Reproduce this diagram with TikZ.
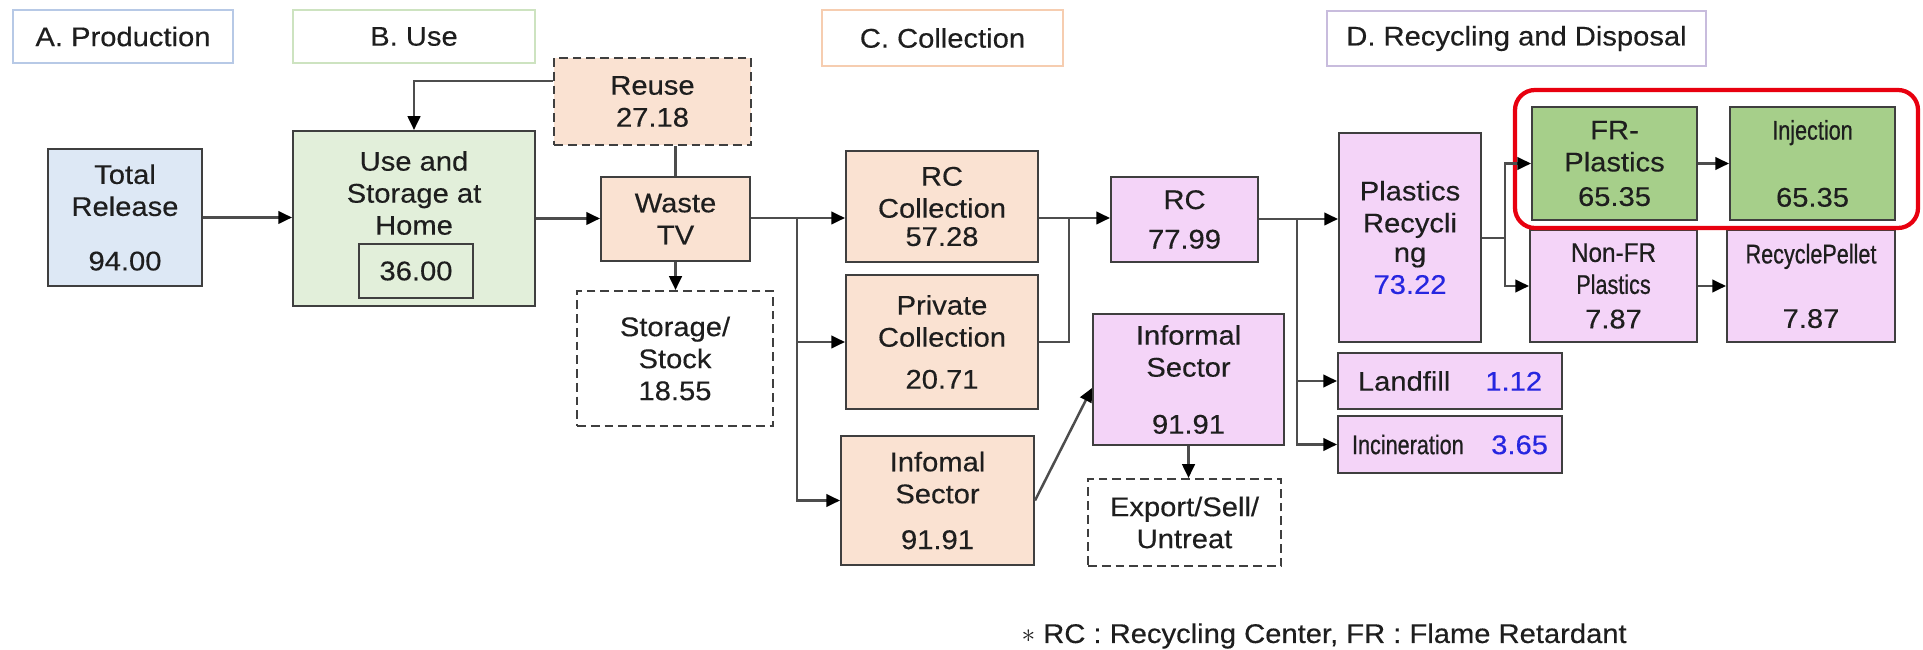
\documentclass[tikz,border=0pt]{standalone}
\usepackage{fontspec}
\setmainfont[FakeStretch=1.08,FakeBold=0.35]{Liberation Sans}
\newfontfamily\condfont[FakeStretch=0.8,FakeBold=0.6]{Liberation Sans}
\newfontfamily\semicond[FakeStretch=0.9,FakeBold=0.5]{Liberation Sans}
\usetikzlibrary{arrows.meta,calc}
\definecolor{edge}{HTML}{3F3F3F}
\definecolor{conn}{HTML}{4D4D4D}
\definecolor{bluef}{HTML}{DDE8F5}
\definecolor{greenf}{HTML}{E2EFDA}
\definecolor{peach}{HTML}{FAE2D2}
\definecolor{pinkf}{HTML}{F4D4F8}
\definecolor{frgreen}{HTML}{A6CF8A}
\definecolor{numblue}{HTML}{2626E0}
\definecolor{hlred}{HTML}{E8000F}
\definecolor{txt}{HTML}{1E1E1E}
\definecolor{hdrA}{HTML}{B7C9E6}
\definecolor{hdrB}{HTML}{CDE3C0}
\definecolor{hdrC}{HTML}{F6CDB0}
\definecolor{hdrD}{HTML}{C8BCDD}
\newcommand\mkbox[7]{\node[#1, minimum width={(#5-#3)*0.4pt}, minimum height={(#6-#4)*0.4pt}] (#2) at ({(#3+#5)/2},{(#4+#6)/2}) {#7};}
\begin{document}
\begin{tikzpicture}[x=0.4pt,y=-0.4pt,
  font=\fontsize{10.8}{12.8}\selectfont,
  box/.style={draw=edge, line width=0.8pt, inner sep=0pt, align=center, text=txt},
  dbox/.style={box, dash pattern=on 3.5pt off 2pt},
  hdr/.style={line width=0.8pt, inner sep=0pt, align=center, text=txt},
  txtnode/.style={inner sep=0pt, align=center, text=txt},
  arr/.style={draw=conn, line width=1pt, -{Triangle[length=5.5pt,width=5pt,color=black]}},
  ln/.style={draw=conn, line width=1pt}]
\useasboundingbox (0,0) rectangle (1923,650);
\fill[white] (0,0) rectangle (1923,650);
% headers
\mkbox{hdr, draw=hdrA}{hA}{13}{10}{233}{63}{A. Production}
\mkbox{hdr, draw=hdrB}{hB}{293}{10}{535}{63}{B. Use}
\mkbox{hdr, draw=hdrC}{hC}{822}{10}{1063}{66}{C. Collection}
\mkbox{hdr, draw=hdrD}{hD}{1327}{11}{1706}{66}{D. Recycling and Disposal}
% A / B
\mkbox{box, fill=bluef}{tr}{48}{149}{202}{286}{Total\\Release\\[9pt]94.00}
\mkbox{box, fill=greenf}{use}{293}{131}{535}{306}{}
\node[txtnode] (usetxt) at (414,193) {Use and\\Storage at\\Home};
\mkbox{box, fill=greenf}{usenum}{359}{244}{473}{298}{36.00}
\mkbox{dbox, fill=peach}{reuse}{554}{58}{751}{145}{Reuse\\27.18}
\mkbox{box, fill=peach}{waste}{601}{177}{750}{261}{Waste\\TV}
\mkbox{dbox, fill=white}{stor}{577}{291}{773}{426}{Storage/\\Stock\\18.55}
% C
\mkbox{box, fill=peach}{rcc}{846}{151}{1038}{262}{RC\\Collection\\[-1.5pt]57.28}
\mkbox{box, fill=peach}{priv}{846}{275}{1038}{409}{Private\\Collection\\[4pt]20.71}
\mkbox{box, fill=peach}{infs}{841}{436}{1034}{565}{Infomal\\Sector\\[5.5pt]91.91}
\mkbox{box, fill=pinkf}{rc}{1111}{177}{1258}{262}{RC\\[3pt]77.99}
\mkbox{box, fill=pinkf}{infp}{1093}{314}{1284}{445}{Informal\\Sector\\[10pt]91.91}
\mkbox{dbox, fill=white}{exp}{1088}{479}{1281}{566}{Export/Sell/\\Untreat}
% D
\mkbox{box, fill=pinkf}{pr}{1339}{133}{1481}{342}{Plastics\\Recycli\\[-1pt]ng\\\textcolor{numblue}{73.22}}
\mkbox{box, fill=frgreen}{fr}{1532}{107}{1697}{220}{FR-\\Plastics\\[1pt]65.35}
\mkbox{box, fill=frgreen}{inj}{1730}{107}{1895}{220}{{\condfont Injection}\\[14pt]65.35}
\mkbox{box, fill=pinkf}{nfr}{1530}{230}{1697}{342}{{\semicond Non-FR}\\{\condfont Plastics}\\[1pt]7.87}
\mkbox{box, fill=pinkf}{rp}{1727}{230}{1895}{342}{{\condfont RecyclePellet}\\[13pt]7.87}
\mkbox{box, fill=pinkf}{lf}{1338}{353}{1562}{409}{Landfill\hspace{14pt}\textcolor{numblue}{1.12}}
\mkbox{box, fill=pinkf}{inc}{1338}{416}{1562}{473}{{\condfont Incineration}\hspace{11pt}\textcolor{numblue}{3.65}}
% highlight
\mkbox{draw=hlred, line width=1.7pt, rounded corners=8pt, inner sep=0pt}{hl}{1515}{90}{1918}{228}{}
% connectors
\draw[arr] (tr.east) -- (tr.east -| use.west);
\draw[arr] (use.east) -- (use.east -| waste.west);
\draw[arr] (reuse.west |- 0,81) -| (use.north);
\draw[ln] (waste.north) -- (waste.north |- reuse.south);
\draw[arr] (waste.south) -- (waste.south |- stor.north);
\coordinate (j1) at (797,218);
\draw[arr] (waste.east |- j1) -- (j1 -| rcc.west);
\draw[arr] (j1) |- (priv.west);
\draw[arr] (j1) |- (infs.west);
\coordinate (j2) at (1069,218);
\draw[arr] (rcc.east |- j2) -- (j2 -| rc.west);
\draw[ln] (priv.east) -| (j2);
\draw[arr] (infs.east) -- (infp.west |- 0,388);
\draw[arr] (infp.south) -- (infp.south |- exp.north);
\coordinate (j3) at (1297,219);
\draw[arr] (rc.east |- j3) -- (j3 -| pr.west);
\draw[arr] (j3) |- (lf.west);
\draw[arr] (j3) |- (inc.west);
\coordinate (j4) at (1505,238);
\draw[ln] (pr.east |- j4) -- (j4);
\draw[arr] (j4) |- (fr.west);
\draw[arr] (j4) |- (nfr.west);
\draw[arr] (fr.east) -- (inj.west);
\draw[arr] (nfr.east) -- (rp.west);
% footnote
\node[txtnode, anchor=west] (foot) at (1021,636) {$\ast$ RC : Recycling Center, FR : Flame Retardant};
\end{tikzpicture}
\end{document}
